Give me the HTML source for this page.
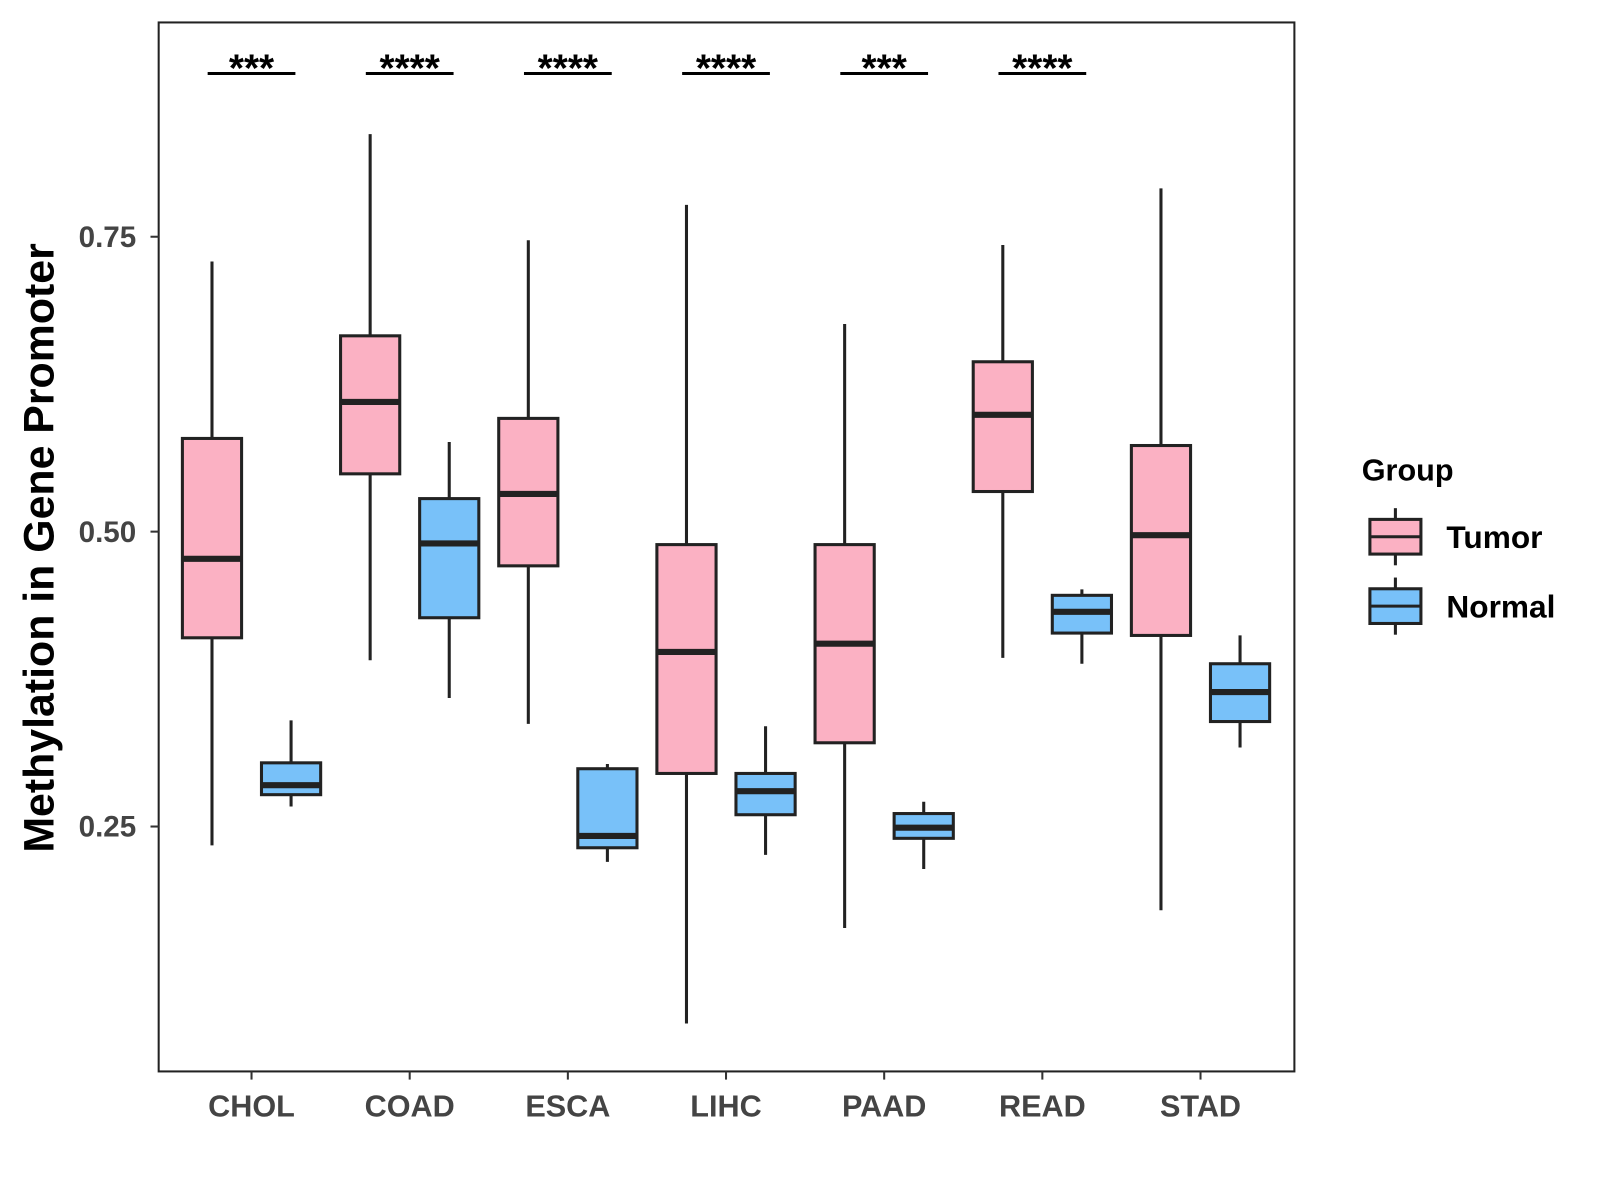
<!DOCTYPE html>
<html><head><meta charset="utf-8"><style>
html,body{margin:0;padding:0;background:#fff}
svg{display:block}
text{font-family:"Liberation Sans",Arial,sans-serif;font-weight:bold}
</style></head><body>
<svg id="chart" width="1600" height="1200" viewBox="0 0 1567 1176" xmlns="http://www.w3.org/2000/svg">
<rect x="0" y="0" width="1567" height="1176" fill="#fff"/>
<g id="plot"></g>
<rect x="155" y="22" width="1113" height="1028" fill="none" stroke="#222" stroke-width="2"/>
<text x="0" y="0" transform="translate(52,537) rotate(-90)" text-anchor="middle" font-size="42" fill="#000">Methylation in Gene Promoter</text>
<g>
<text x="1334" y="471" font-size="30" fill="#000">Group</text>
<g>
<line x1="1367" y1="498" x2="1367" y2="554" stroke="#222" stroke-width="3"/>
<rect x="1342" y="509" width="50" height="34" fill="#fbb1c3" stroke="#222" stroke-width="3"/>
<line x1="1342" y1="526" x2="1392" y2="526" stroke="#222" stroke-width="3"/>
<text x="1417" y="537" font-size="31" fill="#000">Tumor</text>
</g>
<g>
<line x1="1367" y1="566" x2="1367" y2="622" stroke="#222" stroke-width="3"/>
<rect x="1342" y="577" width="50" height="34" fill="#78c1f9" stroke="#222" stroke-width="3"/>
<line x1="1342" y1="594" x2="1392" y2="594" stroke="#222" stroke-width="3"/>
<text x="1417" y="605" font-size="31" fill="#000">Normal</text>
</g>
</g>
</svg>
<script>
const categories = ["CHOL","COAD","ESCA","LIHC","PAAD","READ","STAD"];
// [min, q1, median, q3, max]
const tumorStats = [
  [0.234,0.410,0.477,0.579,0.729],
  [0.391,0.549,0.610,0.666,0.837],
  [0.337,0.471,0.532,0.596,0.747],
  [0.083,0.295,0.398,0.489,0.777],
  [0.164,0.321,0.405,0.489,0.676],
  [0.393,0.534,0.599,0.644,0.743],
  [0.179,0.412,0.497,0.573,0.791]
];
const normalStats = [
  [0.267,0.277,0.285,0.304,0.340],
  [0.359,0.427,0.490,0.528,0.576],
  [0.220,0.232,0.242,0.299,0.303],
  [0.226,0.260,0.280,0.295,0.335],
  [0.214,0.240,0.249,0.261,0.271],
  [0.388,0.414,0.432,0.446,0.451],
  [0.317,0.339,0.364,0.388,0.412]
];
const significance = ["***","****","****","****","***","****",""];
const yTicks = [0.25,0.50,0.75];
const yTickLabels = ["0.25","0.50","0.75"];

const NS = "http://www.w3.org/2000/svg";
const plot = document.getElementById("plot");
const svg = document.getElementById("chart");
function yScale(v){ return 521 - (v - 0.5) * 1156; }
function xScale(i){ return 246 + i * 155; }
function mk(tag, attrs, parent){
  const e = document.createElementNS(NS, tag);
  for (const k in attrs) e.setAttribute(k, attrs[k]);
  (parent || plot).appendChild(e);
  return e;
}
yTicks.forEach((t, i) => {
  const y = yScale(t);
  const tk = mk("line", {x1:147, x2:155, y1:y, y2:y, stroke:"#333", "stroke-width":2}, svg);
  
  
  const lb = mk("text", {x:133, y:y+10, "text-anchor":"end", "font-size":29, fill:"#444"}, svg);
  lb.textContent = yTickLabels[i];
  
  
});
categories.forEach((c, i) => {
  const x = xScale(i);
  const tk = mk("line", {x1:x, x2:x, y1:1050, y2:1058, stroke:"#333", "stroke-width":2}, svg);
  
  
  const lb = mk("text", {x:x, y:1094, "text-anchor":"middle", "font-size":30, fill:"#444"}, svg);
  lb.textContent = c;
  
  
});
function drawBox(cx, s, fill, name){
  const g = mk("g", {});
  
  
  const w = 58;
  mk("line", {x1:cx, x2:cx, y1:yScale(s[0]), y2:yScale(s[4]), stroke:"#222", "stroke-width":3}, g);
  mk("rect", {x:cx-w/2, y:yScale(s[3]), width:w, height:yScale(s[1])-yScale(s[3]), fill:fill, stroke:"#222", "stroke-width":3}, g);
  mk("line", {x1:cx-w/2, x2:cx+w/2, y1:yScale(s[2]), y2:yScale(s[2]), stroke:"#222", "stroke-width":6}, g);
}
categories.forEach((c, i) => {
  const cx = xScale(i);
  drawBox(cx - 38.75, tumorStats[i], "#fbb1c3", "box-tumor-" + c.toLowerCase());
  drawBox(cx + 38.75, normalStats[i], "#78c1f9", "box-normal-" + c.toLowerCase());
  if (significance[i]) {
    const bl = mk("line", {x1:cx-43, x2:cx+43, y1:72, y2:72, stroke:"#000", "stroke-width":3});
    
    
    const st = mk("text", {x:cx, y:80, "text-anchor":"middle", "font-size":38, fill:"#000"});
    st.textContent = significance[i];
    
    
  }
});
</script>
</body></html>
